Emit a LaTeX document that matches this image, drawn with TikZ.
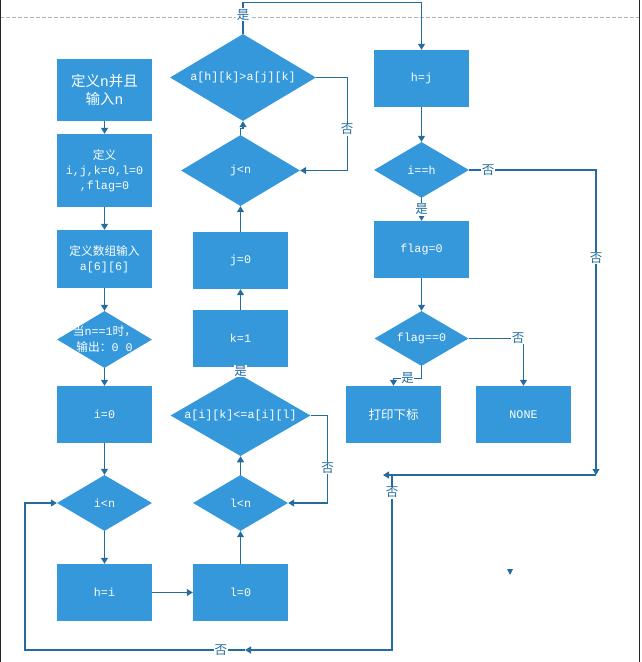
\documentclass[tikz,border=0pt]{standalone}
\usepackage{fontspec}
\setmainfont{Liberation Mono}
\newfontfamily\cjk{Noto Sans CJK SC}
\usetikzlibrary{shapes.geometric,arrows.meta}
\newcommand\zhs[1]{{\cjk #1}}
\definecolor{boxblue}{RGB}{52,152,219}
\definecolor{linec}{RGB}{36,108,160}
\tikzset{
  box/.style={fill=boxblue, draw=none, minimum width=95pt, minimum height=57pt, text=white,
    font=\fontsize{11.7}{15}\selectfont, align=center, inner sep=1pt},
  dia/.style={diamond, fill=boxblue, draw=none, text=white, aspect=1.6,
    font=\fontsize{11.7}{16}\selectfont, align=center, inner sep=0pt},
  conn/.style={draw=linec, line width=1.1pt, -{Triangle[length=6pt,width=7pt]}},
  plain/.style={draw=linec, line width=1.1pt},
  lab/.style={text=linec, fill=white, inner sep=0.6pt, font=\cjk\fontsize{12.5}{13}\selectfont},
}
\begin{document}
\begin{tikzpicture}[x=1pt,y=-1pt]
\useasboundingbox (0,0) rectangle (641,662);
\draw[black!30, dash pattern=on 4pt off 2pt, line width=0.8pt] (0,17) -- (641,17);
\draw[black!85, line width=1pt] (0.5,0) -- (0.5,662);
\draw[black!85, line width=1.5pt] (639.5,0) -- (639.5,662);

% left column
\node[box, minimum height=62pt, font=\fontsize{14.5}{18}\selectfont] (b1) at (104.5,90) {\zhs{定义}n\zhs{并且}\\\zhs{输入}n};
\node[box, minimum height=73pt] (b2) at (104.5,170.5) {\zhs{定义}\\i,j,k=0,l=0\\,flag=0};
\node[box, minimum height=58pt] (b3) at (104.5,259) {\zhs{定义数组输入}\\a[6][6]};
\node[dia, minimum width=95pt, minimum height=57pt,
  label={[text=white, align=center, font=\fontsize{11.7}{16}\selectfont]center:\zhs{当}n==1\zhs{时，}\\\zhs{输出：}0 0}] (d0) at (104.5,339.5) {};
\node[box] (b4) at (104.5,414.5) {i=0};
\node[dia, minimum width=95pt, minimum height=56pt] (d1) at (104.5,503) {i<n};
\node[box] (b5) at (104.5,592.5) {h=i};

% middle column
\node[box] (b6) at (240.5,592.5) {l=0};
\node[dia, minimum width=95pt, minimum height=56pt] (d2) at (240.5,503) {l<n};
\node[dia, minimum width=140pt, minimum height=79pt] (d3) at (240.5,415.5) {a[i][k]<=a[i][l]};
\node[box] (b7) at (240.5,338.5) {k=1};
\node[box] (b8) at (240.5,260.5) {j=0};
\node[dia, minimum width=119pt, minimum height=71pt] (d4) at (240.5,170.5) {j<n};
\node[dia, minimum width=146pt, minimum height=87pt] (d5) at (243,77.5) {a[h][k]>a[j][k]};

% right column
\node[box] (b9) at (421.5,78.5) {h=j};
\node[dia, minimum width=95pt, minimum height=56pt] (d6) at (421.5,170) {i==h};
\node[box] (b10) at (421.5,249.5) {flag=0};
\node[dia, minimum width=94pt, minimum height=55pt] (d7) at (421.5,338.5) {flag==0};
\node[box, font=\fontsize{12.5}{15}\selectfont] (b11) at (393.5,414.5) {\zhs{打印下标}};
\node[box] (b12) at (523.5,414.5) {NONE};

\coordinate (m1) at (596,475);
\coordinate (m2) at (383,475);
\coordinate (m3) at (392,475);
\coordinate (m4) at (392,650);
\coordinate (m6) at (245,650);
\coordinate (m5) at (25,650);

% connectors left column
\draw[conn] (b1) -- (b2);
\draw[conn] (b2) -- (b3);
\draw[conn] (b3) -- (d0);
\draw[conn] (d0) -- (b4);
\draw[conn] (b4) -- (d1);
\draw[conn] (d1) -- (b5);
\draw[conn] (b5) -- (b6);
\draw[conn] (b6) -- (d2);
\draw[conn] (d2) -- (d3);
\draw[conn] (d3.east) -- ++(17,0) |- (d2.east) node[lab, pos=0.3]{否};
\draw[plain] (d3.north) -- node[lab]{是} (b7.south);
\draw[conn] (b7) -- (b8);
\draw[conn] (b8) -- (d4);
\draw[conn] (d4.north) -- ++(0,-6) -| (d5.south);
\draw[conn] (d5.east) -- ++(31,0) |- (d4.east) node[lab, pos=0.28]{否};
\draw[conn] (d5.north) -- node[lab, pos=0.62]{是} ++(0,-31) -| (b9.north);

% right column connectors
\draw[conn] (b9) -- (d6);
\draw[conn] (d6) -- node[lab, pos=0.5]{是} (b10);
\draw[conn] (b10) -- (d7);
\draw[conn] (d7.south) -- ++(0,12) -| (b11.north) node[lab, pos=0.25]{是};
\draw[conn] (d7.east) -| (b12.north) node[lab, pos=0.45]{否};
\draw[conn] (d6.east) -| (m1) node[lab, pos=0.075]{否} node[lab, pos=0.645]{否};
\draw[conn] (m1) -- (m2);
\draw[conn] (m3) -- node[lab, pos=0.1]{否} (m4) -- (m6);
\draw[conn] (m6) -- node[lab, pos=0.11]{否} (m5) |- (d1.west);

% stray arrowhead
\fill[linec] (507,569) -- (513,569) -- (510,575) -- cycle;
\end{tikzpicture}
\end{document}
